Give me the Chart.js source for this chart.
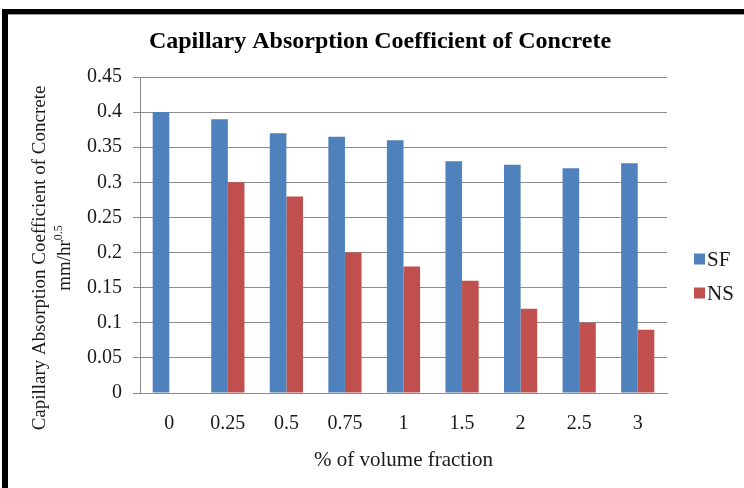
<!DOCTYPE html>
<html>
<head>
<meta charset="utf-8">
<script src="https://cdn.jsdelivr.net/npm/chart.js@4/dist/chart.umd.min.js"></script>
<style>
  html, body { margin: 0; padding: 0; background: #fff; }
  canvas { display: block; }
</style>
</head>
<body>
<canvas id="c" width="744" height="488"></canvas>
<script>
// Volume fraction (%) categories
const categories = ['0', '0.25', '0.5', '0.75', '1', '1.5', '2', '2.5', '3'];
// Capillary absorption coefficient, mm/hr^0.5
const sfValues = [0.40, 0.39, 0.37, 0.365, 0.36, 0.33, 0.325, 0.32, 0.327];
const nsValues = [null, 0.30, 0.28, 0.20, 0.18, 0.16, 0.12, 0.10, 0.09];
const seriesNames = ['SF', 'NS'];
const yTickValues = [0, 0.05, 0.1, 0.15, 0.2, 0.25, 0.3, 0.35, 0.4, 0.45];
const yTickLabels = ['0', '0.05', '0.1', '0.15', '0.2', '0.25', '0.3', '0.35', '0.4', '0.45'];
const chartTitle = 'Capillary Absorption Coefficient of Concrete';

const SERIF = '"Liberation Serif", "Times New Roman", serif';
const GRID = '#8c8c8c';
const TEXT = '#1a1a1a';

// White page with the heavy black frame along the top and left
const framePlugin = {
  id: 'frame',
  beforeDraw(chart) {
    const ctx = chart.ctx;
    ctx.save();
    ctx.fillStyle = '#ffffff';
    ctx.fillRect(0, 0, chart.width, chart.height);
    ctx.fillStyle = '#000000';
    ctx.fillRect(2, 9, chart.width - 2, 5);
    ctx.fillRect(2, 9, 6, chart.height - 9);
    ctx.fillStyle = '#9a9a9a';
    ctx.fillRect(8, 14, chart.width - 8, 1);
    ctx.restore();
  }
};

// Bold chart title centred on the page
const titlePlugin = {
  id: 'pageTitle',
  afterDraw(chart) {
    const ctx = chart.ctx;
    ctx.save();
    ctx.fillStyle = '#000000';
    ctx.font = 'bold 24px ' + SERIF;
    ctx.textAlign = 'center';
    ctx.textBaseline = 'alphabetic';
    ctx.fillText(chartTitle, 380, 48);
    ctx.restore();
  }
};

// Two-line rotated y-axis title with a superscript exponent
const yTitlePlugin = {
  id: 'yTitle',
  afterDraw(chart) {
    const ctx = chart.ctx;
    const cy = 258;
    ctx.save();
    ctx.fillStyle = TEXT;
    ctx.textBaseline = 'middle';
    ctx.textAlign = 'center';
    ctx.font = '19px ' + SERIF;
    ctx.translate(40, cy);
    ctx.rotate(-Math.PI / 2);
    ctx.fillText('Capillary Absorption Coefficient of Concrete', 0, 0);
    ctx.restore();

    ctx.save();
    ctx.fillStyle = TEXT;
    ctx.textBaseline = 'alphabetic';
    ctx.textAlign = 'left';
    ctx.translate(70, cy);
    ctx.rotate(-Math.PI / 2);
    ctx.font = '19px ' + SERIF;
    const base = 'mm/hr';
    const wBase = ctx.measureText(base).width;
    ctx.font = '12px ' + SERIF;
    const sup = '0.5';
    const wSup = ctx.measureText(sup).width;
    const start = -(wBase + wSup) / 2;
    ctx.font = '19px ' + SERIF;
    ctx.fillText(base, start, 0);
    ctx.font = '12px ' + SERIF;
    ctx.fillText(sup, start + wBase, -8);
    ctx.restore();
  }
};

// Legend at the right, square swatches with serif labels
const sideLegendPlugin = {
  id: 'sideLegend',
  afterDraw(chart) {
    const ctx = chart.ctx;
    const x = 694, y0 = 259, step = 34;
    ctx.save();
    ctx.font = '21px ' + SERIF;
    ctx.textBaseline = 'middle';
    ctx.textAlign = 'left';
    chart.data.datasets.forEach((ds, i) => {
      const cy = y0 + i * step;
      ctx.fillStyle = ds.backgroundColor;
      ctx.fillRect(x, cy - 5.5, 11, 11);
      ctx.fillStyle = TEXT;
      ctx.fillText(ds.label, x + 13, cy + 1);
    });
    ctx.restore();
  }
};

new Chart(document.getElementById('c'), {
  type: 'bar',
  data: {
    labels: categories,
    datasets: [
      { label: seriesNames[0], data: sfValues, backgroundColor: '#4F81BD' },
      { label: seriesNames[1], data: nsValues, backgroundColor: '#C0504D' }
    ]
  },
  options: {
    responsive: false,
    animation: false,
    devicePixelRatio: 1,
    datasets: { bar: { categoryPercentage: 0.567, barPercentage: 1.0, borderWidth: 0 } },
    layout: { padding: { left: 0, right: 77, top: 77, bottom: 0 } },
    plugins: {
      legend: { display: false },
      tooltip: { enabled: false },
      title: { display: false }
    },
    scales: {
      x: {
        grid: { display: false, drawTicks: false },
        border: { display: true, color: GRID, width: 1 },
        ticks: { color: TEXT, font: { family: SERIF, size: 20 }, padding: 19, maxRotation: 0 },
        title: {
          display: true,
          text: '% of volume fraction',
          color: TEXT,
          font: { family: SERIF, size: 21 },
          padding: { top: 0, bottom: 15 }
        },
        afterFit(scale) { scale.height = 95; }
      },
      y: {
        min: 0,
        max: 0.45,
        grid: { color: GRID, lineWidth: 1, drawTicks: true, tickLength: 7, tickColor: GRID },
        border: { display: true, color: GRID, width: 1 },
        ticks: {
          color: TEXT,
          font: { family: SERIF, size: 20 },
          padding: 11,
          callback(value) {
            const i = yTickValues.findIndex(v => Math.abs(v - value) < 1e-9);
            return i >= 0 ? yTickLabels[i] : '';
          }
        },
        afterBuildTicks(scale) { scale.ticks = yTickValues.map(v => ({ value: v })); },
        afterFit(scale) { scale.width = 140; }
      }
    }
  },
  plugins: [framePlugin, titlePlugin, yTitlePlugin, sideLegendPlugin]
});
</script>
</body>
</html>
